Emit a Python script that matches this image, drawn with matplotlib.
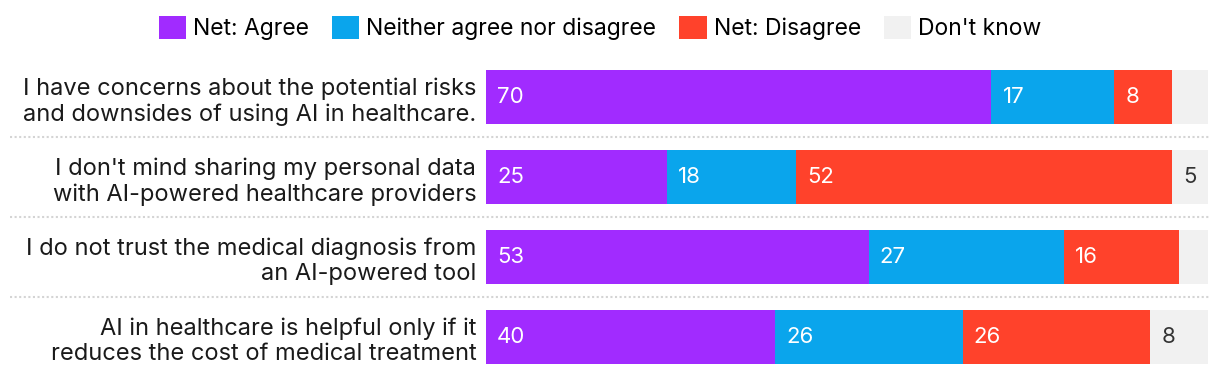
import matplotlib
matplotlib.use("Agg")
import matplotlib.pyplot as plt
from matplotlib.patches import Patch
import matplotlib.transforms as mtransforms

plt.rcParams['font.family'] = ['Inter', 'DejaVu Sans']

categories = [
    "I have concerns about the potential risks\nand downsides of using AI in healthcare.",
    "I don't mind sharing my personal data\nwith AI-powered healthcare providers",
    "I do not trust the medical diagnosis from\nan AI-powered tool",
    "AI in healthcare is helpful only if it\nreduces the cost of medical treatment",
]
series_names = ["Net: Agree", "Neither agree nor disagree", "Net: Disagree", "Don't know"]
agree = [70, 25, 53, 40]
neither = [17, 18, 27, 26]
disagree = [8, 52, 16, 26]
dont_know = [5, 5, 4, 8]
dont_know_labels = ["", "5", "", "8"]

colors = ["#A12BFF", "#0AA5EC", "#FF422B", "#F1F1F1"]
text_colors = ["white", "white", "white", "#333333"]

FS = 16.5
W, H = 1220, 376
fig = plt.figure(figsize=(W / 100, H / 100), dpi=100)
ax = fig.add_axes([486 / W, (H - 377) / H, 722 / W, 320 / H])

series = [agree, neither, disagree, dont_know]
label_lists = [[str(v) for v in agree], [str(v) for v in neither],
               [str(v) for v in disagree], dont_know_labels]
ypos = list(range(len(categories)))
left = [0] * len(categories)
for s, vals in enumerate(series):
    ax.barh(ypos, vals, left=left, height=54 / 80, color=colors[s], linewidth=0)
    for i, v in enumerate(vals):
        lab = label_lists[s][i]
        if lab:
            ax.annotate(lab, xy=(left[i], ypos[i]), xytext=(8, 0), textcoords="offset points",
                        ha="left", va="center", color=text_colors[s], fontsize=FS - 0.5)
    left = [l + v for l, v in zip(left, vals)]

ax.set_xlim(0, 100)
ax.set_ylim(3.5, -0.5)
ax.set_yticks(ypos)
ax.set_yticklabels(categories, fontsize=17, color="#1a1a1a", linespacing=1.22)
ax.tick_params(axis="y", length=0, pad=7)
ax.set_xticks([])
for sp in ax.spines.values():
    sp.set_visible(False)

# dotted separators
trans = mtransforms.blended_transform_factory(fig.transFigure, ax.transData)
for yb in [0.5, 1.5, 2.5]:
    ax.plot([10 / W, 1210 / W], [yb, yb], transform=trans, clip_on=False,
            color="#d4d4d4", linewidth=1.5, linestyle=(0, (1, 1.2)))

handles = [Patch(facecolor=c, edgecolor="none") for c in colors]
fig.legend(handles, series_names, loc="center", bbox_to_anchor=(600 / W, (H - 28) / H),
           ncol=4, frameon=False, fontsize=FS, handlelength=1.2, handleheight=1.2,
           handletextpad=0.3, columnspacing=1.0, borderaxespad=0, borderpad=0)

fig.savefig("out.png", dpi=100)
